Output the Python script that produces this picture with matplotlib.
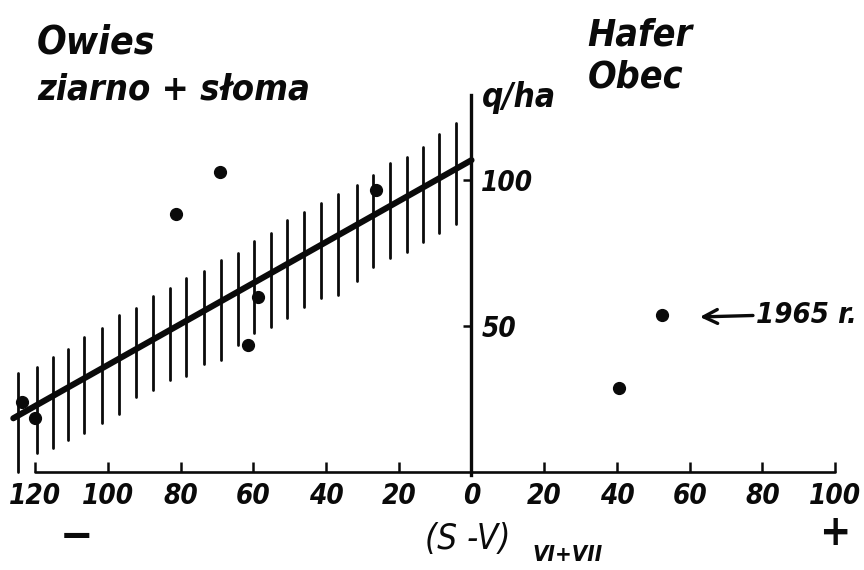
import matplotlib
matplotlib.use("Agg")
import matplotlib.pyplot as plt
from matplotlib import font_manager as fm
from matplotlib.font_manager import FontProperties

# ---------------- data ----------------
x_ticks = [-120, -100, -80, -60, -40, -20, 0, 20, 40, 60, 80, 100]
x_tick_labels = ["120", "100", "80", "60", "40", "20", "0", "20", "40", "60", "80", "100"]
y_ticks = [50, 100]
y_tick_labels = ["50", "100"]

# Owies (left, negative S-V) points
pts_x = [-69.2, -81.3, -26.3, -58.7, -61.5, -123.5, -120.0]
pts_y = [102.8, 88.2, 96.6, 60.0, 43.5, 24.1, 18.4]
# Hafer / Obec (right, positive S-V) points
pts_right_x = [52.4, 40.6]
pts_right_y = [53.8, 28.8]

# regression line
reg_x = [-126.0, 0.0]
reg_y = [18.4, 106.8]

# hatched band (vertical strokes)
hatch_x = [-124.6, -119.6, -115.2, -110.9, -106.5, -101.7, -96.9, -92.3, -87.5,
           -82.9, -78.6, -73.6, -68.9, -64.1, -59.7, -55.1, -50.8, -46.1, -41.4,
           -36.7, -31.6, -27.0, -22.4, -17.8, -13.4, -8.9, -4.2]
hatch_hi = [33.8, 36.1, 39.3, 42.0, 46.1, 49.4, 53.8, 56.1, 60.3, 62.9, 66.3, 68.9,
            72.6, 75.1, 79.1, 82.0, 86.3, 89.1, 92.2, 95.2, 98.3, 101.7, 105.8,
            107.9, 111.3, 115.8, 119.5]
hatch_lo = [0.0, 6.4, 8.1, 11.0, 13.5, 16.9, 19.9, 25.6, 28.1, 31.5, 32.9, 37.0,
            38.4, 43.5, 47.7, 49.8, 52.6, 56.4, 59.5, 60.6, 65.5, 70.1, 73.2, 75.3,
            78.9, 81.8, 84.9]

# annotation for 1965
ann_text = "1965 r."
ann_tip = (62.8, 53.1)
ann_tail = (77.4, 53.6)

# ---------------- font choice ----------------
def pick_condensed_family():
    best, best_score = None, -1
    for f in fm.fontManager.ttflist:
        nm = f.name
        st = f.stretch
        cond = ("Condensed" in nm or "Narrow" in nm or
                (isinstance(st, str) and "condensed" in st) or
                (isinstance(st, (int, float)) and st < 500))
        if not cond:
            continue
        score = 1
        if f.style in ("italic", "oblique"):
            score += 2
        w = f.weight
        try:
            w = int(w)
        except Exception:
            w = {"bold": 700, "normal": 400, "medium": 500, "semibold": 600}.get(str(w), 400)
        if 600 <= w <= 800:
            score += 2
        if "DejaVu" in nm or "Liberation" in nm:
            score += 1
        if score > best_score:
            best, best_score = nm, score
    return best

cond_family = pick_condensed_family()
fam = [cond_family, "DejaVu Sans"] if cond_family else ["DejaVu Sans"]


def fp(size, weight="bold"):
    return FontProperties(family=fam, style="italic", weight=weight,
                          stretch="condensed", size=size)


# ---------------- figure ----------------
W, H = 864, 570
fig = plt.figure(figsize=(W / 100, H / 100), dpi=100)
fig.patch.set_facecolor("white")

# axes so that x=-120 -> px 35, x=100 -> px 835 ; y=0 -> px 472, y=100 -> px 180
x_lo, x_hi = -129, 101
y_lo, y_hi = 0, 130
px_per_x = 800 / 220.0
px0 = 471.5
py_per_y = 2.92
left_px = px0 + x_lo * px_per_x
right_px = px0 + x_hi * px_per_x
bot_px = 472
top_px = 472 - y_hi * py_per_y
ax = fig.add_axes([left_px / W, (H - bot_px) / H,
                   (right_px - left_px) / W, (bot_px - top_px) / H])
ax.set_xlim(x_lo, x_hi)
ax.set_ylim(y_lo, y_hi)
ax.set_facecolor("none")

ink = "#0a0a0a"

# spines
for s in ("top", "right"):
    ax.spines[s].set_visible(False)
ax.spines["left"].set_position(("data", 0))
ax.spines["left"].set_bounds(-1, 129)
ax.spines["left"].set_linewidth(2.4)
ax.spines["left"].set_color(ink)
ax.spines["bottom"].set_bounds(-120, 100)
ax.spines["bottom"].set_linewidth(1.9)
ax.spines["bottom"].set_color(ink)
ax.spines["bottom"].set_capstyle("round")

# x ticks pointing up
ax.set_xticks(x_ticks)
ax.set_xticklabels(x_tick_labels)
ax.tick_params(axis="x", direction="in", length=7, width=1.8, color=ink, pad=7)
for lab in ax.get_xticklabels():
    lab.set_fontproperties(fp(20, "bold"))
    lab.set_color(ink)

# y ticks pointing left, labels on the right side of the axis
ax.set_yticks(y_ticks)
ax.set_yticklabels([])
ax.tick_params(axis="y", direction="out", length=6, width=1.8, color=ink)
for v, t in zip(y_ticks, y_tick_labels):
    ax.annotate(t, xy=(0, v), xytext=(7, -2), textcoords="offset points",
                ha="left", va="center", fontproperties=fp(20, "bold"), color=ink,
                annotation_clip=False)

# hatching
ax.vlines(hatch_x, hatch_lo, hatch_hi, colors=ink, linewidth=2.0,
          capstyle="round", clip_on=False, zorder=2)

# regression line
ax.plot(reg_x, reg_y, color=ink, linewidth=4.4, solid_capstyle="round",
        clip_on=False, zorder=3)

# points
ax.plot(pts_x, pts_y, "o", color=ink, markersize=8.5, clip_on=False, zorder=4)
ax.plot(pts_right_x, pts_right_y, "o", color=ink, markersize=8.5, clip_on=False, zorder=4)

# 1965 arrow and label
ax.annotate("", xy=ann_tip, xytext=ann_tail,
            arrowprops=dict(arrowstyle="->,head_length=1.0,head_width=0.5",
                            color=ink, lw=2.4, shrinkA=0, shrinkB=0),
            annotation_clip=False)
ax.annotate(ann_text, xy=ann_tail, xytext=(2, 0), textcoords="offset points",
            ha="left", va="center", fontproperties=fp(21, "bold"), color=ink,
            annotation_clip=False)


# ---------------- texts in pixel positions ----------------
def ftext(x, y, s, size, weight="bold", ha="left", va="baseline"):
    fig.text(x / W, 1 - y / H, s, fontproperties=fp(size, weight), color=ink,
             ha=ha, va=va)


ftext(37, 53, "Owies", 28)
ftext(37, 100, "ziarno + słoma", 26)
ftext(587, 45, "Hafer", 27)
ftext(588, 87, "Obec", 27)
ftext(482, 107, "q/ha", 24)
ftext(425, 549, "(S -V)", 25, weight="normal")
ftext(532, 561, "VI+VII", 16)
ftext(76, 537, "−", 32, ha="center", va="center")
ftext(835, 533, "+", 30, ha="center", va="center")

fig.savefig("out.png", dpi=100, facecolor="white")
